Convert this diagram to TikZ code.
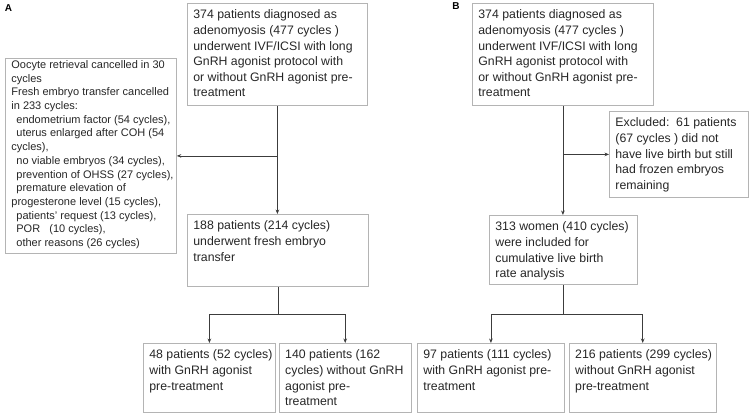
\documentclass[tikz,border=0pt]{standalone}
\usepackage{fontspec}
\setmainfont{Liberation Sans}
\usetikzlibrary{arrows.meta, positioning}
\definecolor{boxgray}{HTML}{B4B4B4}
\definecolor{wiregray}{HTML}{3C3C3C}
\newcommand{\flowtext}[3]{\parbox[t][#2][t]{#1}{\begin{tabular}[t]{@{}l@{}}#3\end{tabular}}}
\newcommand{\ind}{\hspace*{5pt}}

\begin{document}
\begin{tikzpicture}[>={Stealth[length=4.5pt, width=3.6pt]}, x=1pt, y=-1pt,
  flowbox/.style={draw=boxgray, line width=0.8pt, inner xsep=6pt, inner ysep=4.5pt,
                  anchor=north west, text=black!85,
                  font=\fontsize{12.3}{15.6}\selectfont},
  wire/.style={draw=wiregray, line width=0.8pt},
  panel/.style={font=\fontsize{10}{12}\selectfont\bfseries}]
  \useasboundingbox (0,0) rectangle (754,416);

  % panel A
  \node[panel] (labA) at (8.5,8.5) {A};
  \node[flowbox] (startA) at (187,3) {\flowtext{168pt}{93pt}{374 patients diagnosed as\\
    adenomyosis (477 cycles )\\ underwent IVF/ICSI with long\\ GnRH agonist protocol with\\
    or without GnRH agonist pre-\\ treatment}};
  \node[flowbox, inner ysep=0.5pt, font=\fontsize{11}{13.7}\selectfont]
    (cancelA) at (5,58) {\flowtext{159pt}{194pt}{Oocyte retrieval cancelled in 30\\ cycles\\
    Fresh embryo transfer cancelled\\ in 233 cycles:\\
    \ind endometrium factor (54 cycles),\\ \ind uterus enlarged after COH (54\\ cycles),\\
    \ind no viable embryos (34 cycles),\\ \ind prevention of OHSS (27 cycles),\\
    \ind premature elevation of\\ progesterone level (15 cycles),\\
    \ind patients' request (13 cycles),\\ \ind POR\ \ \ (10 cycles),\\
    \ind other reasons (26 cycles)}};
  \node[flowbox] (freshA) at (187,214) {\flowtext{169pt}{63pt}{188 patients (214 cycles)\\
    underwent fresh embryo\\ transfer}};
  \node[flowbox] (agonA) at (143,343) {\flowtext{120pt}{60pt}{48 patients (52 cycles)\\
    with GnRH agonist\\ pre-treatment}};
  \node[flowbox, right=3pt of agonA] (noagonA) {\flowtext{120pt}{60pt}{140 patients (162\\
    cycles) without GnRH\\ agonist pre-\\ treatment}};

  \draw[wire, ->] (startA.south) -- (startA.south |- freshA.north);
  \coordinate (splitA) at (startA.south |- cancelA.east);
  \draw[wire, ->] (splitA) -- (cancelA.east);
  \draw[wire] (freshA.south) -- ++(0,28) coordinate (forkA);
  \draw[wire, ->] (forkA) -| (agonA.north);
  \draw[wire, ->] (forkA) -| (noagonA.north);

  % panel B
  \node[panel] (labB) at (456,6.5) {B};
  \node[flowbox] (startB) at (472,3) {\flowtext{169pt}{93pt}{374 patients diagnosed as\\
    adenomyosis (477 cycles )\\ underwent IVF/ICSI with long\\ GnRH agonist protocol with\\
    or without GnRH agonist pre-\\ treatment}};
  \node[flowbox] (exclB) at (609,111) {\flowtext{127pt}{77pt}{Excluded:\ \ 61 patients\\
    (67 cycles ) did not\\ have live birth but still\\ had frozen embryos\\ remaining}};
  \node[flowbox] (cumB) at (489,215) {\flowtext{136pt}{60pt}{313 women (410 cycles)\\
    were included for\\ cumulative live birth\\ rate analysis}};
  \node[flowbox] (agonB) at (417,343) {\flowtext{135pt}{60pt}{97 patients (111 cycles)\\
    with GnRH agonist pre-\\ treatment}};
  \node[flowbox, right=4pt of agonB] (noagonB) {\flowtext{135pt}{60pt}{216 patients (299 cycles)\\
    without GnRH agonist\\ pre-treatment}};

  \draw[wire, ->] (startB.south) -- (startB.south |- cumB.north);
  \coordinate (splitB) at (startB.south |- exclB.west);
  \draw[wire, ->] (splitB) -- (exclB.west);
  \draw[wire] (cumB.south) -- ++(0,30) coordinate (forkB);
  \draw[wire, ->] (forkB) -| (agonB.north);
  \draw[wire, ->] (forkB) -| (noagonB.north);
\end{tikzpicture}
\end{document}
